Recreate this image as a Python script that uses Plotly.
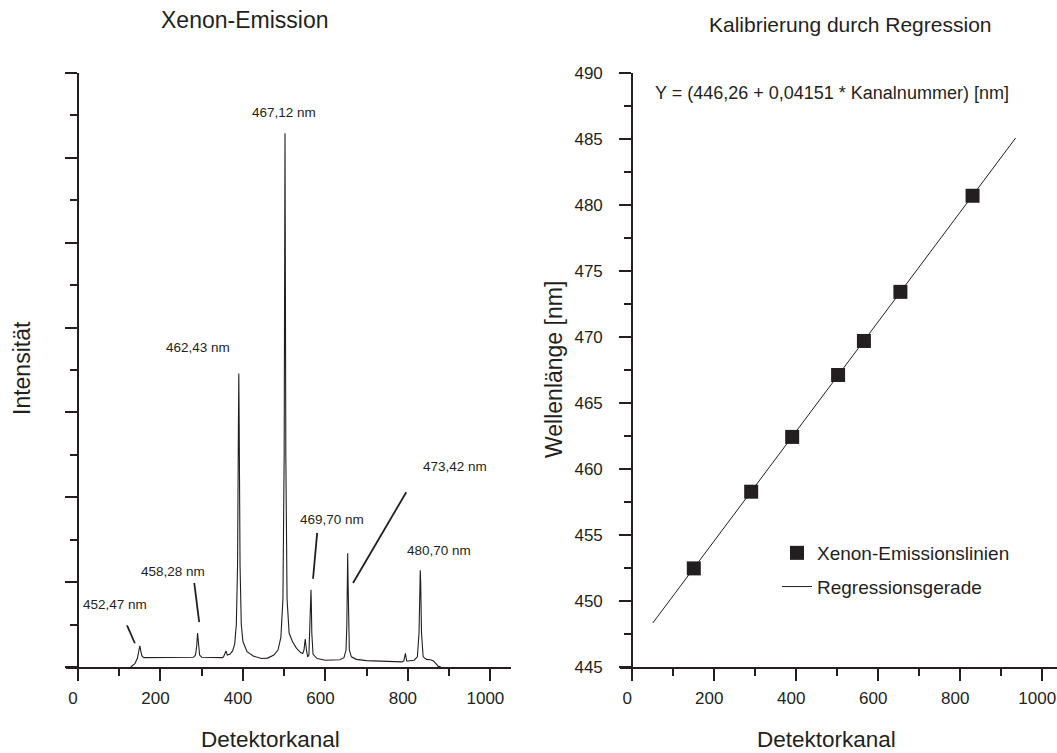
import plotly.graph_objects as go

W, H = 1057, 753
FONT = "Liberation Sans, Arial, sans-serif"
INK = "#231f20"

# Xenon emission spectrum: detector channel vs. intensity (arb. units)
spec_channel = [128, 138, 144, 148, 150, 152, 155, 160, 200, 250, 280, 285, 288, 290,
                292, 295, 300, 330, 350, 353, 356, 359, 362, 368, 375, 380, 384, 387,
                389, 390, 391, 393, 396, 400, 410, 425, 445, 460, 475, 485, 492, 497,
                500, 501, 502, 503, 504, 507, 512, 520, 530, 540, 545, 548, 551, 554,
                557, 560, 563, 564, 565, 566, 567, 570, 580, 600, 620, 635, 645, 650,
                652, 653, 654, 655, 656, 658, 663, 675, 700, 750, 785, 790, 794, 797,
                800, 815, 823, 827, 829, 830, 831, 833, 837, 845, 855, 862, 868, 873, 880]
spec_intensity = [0.0, 0.04, 0.10, 0.18, 0.25, 0.20, 0.13, 0.11, 0.11, 0.11, 0.115, 0.14,
                  0.25, 0.40, 0.25, 0.14, 0.115, 0.11, 0.11, 0.12, 0.17, 0.19, 0.14, 0.15,
                  0.19, 0.27, 0.50, 1.20, 2.80, 3.46, 2.80, 1.20, 0.50, 0.30, 0.18, 0.13,
                  0.10, 0.105, 0.14, 0.20, 0.35, 0.80, 2.50, 4.50, 6.29, 4.50, 2.50, 0.80,
                  0.40, 0.30, 0.22, 0.17, 0.16, 0.20, 0.33, 0.20, 0.12, 0.14, 0.50, 0.80,
                  0.91, 0.70, 0.40, 0.15, 0.10, 0.08, 0.08, 0.085, 0.11, 0.20, 0.50, 1.00,
                  1.34, 1.00, 0.50, 0.20, 0.12, 0.09, 0.075, 0.065, 0.06, 0.07, 0.16, 0.07,
                  0.07, 0.08, 0.12, 0.40, 1.00, 1.14, 1.00, 0.40, 0.12, 0.09, 0.085, 0.07,
                  0.04, 0.01, 0.0]

# Identified emission lines: channel and known wavelength (nm)
line_channel = [150, 290, 390, 502, 565, 654, 830]
line_wavelength = [452.47, 458.28, 462.43, 467.12, 469.70, 473.42, 480.70]
line_labels = ["452,47 nm", "458,28 nm", "462,43 nm", "467,12 nm",
               "469,70 nm", "473,42 nm", "480,70 nm"]
# Label positions (channel, intensity) and optional leader start points
label_pos = [(90, 0.74), (230, 1.12), (290, 3.77), (500, 6.54),
             (615, 1.74), (914, 2.36), (875, 1.37)]
leader_from = [(119, 0.49), (282, 0.99), None, None, (580, 1.58), (796, 2.06), None]
leader_to = [(138, 0.28), (294, 0.53), None, None, (570, 1.04), (667, 0.99), None]

# Linear regression result
intercept = 446.26
slope = 0.04151
fit_channel = [50, 935]
fit_wavelength = [intercept + slope * c for c in fit_channel]

# Plot area geometry (pixels)
L_X0, L_X1 = 66, 511
L_XR = [-29, 1050]
R_X0, R_X1 = 620, 1057
R_XR = [-30, 1036]
Y_TOP, Y_BOT = 73, 667


def px(v):
    return v / W


def py(v):
    return 1 - v / H


def zero_pos(x0, x1, xr):
    return px(x0 + (0 - xr[0]) / (xr[1] - xr[0]) * (x1 - x0))


fig = go.Figure()

fig.add_trace(go.Scatter(x=spec_channel, y=spec_intensity, mode="lines",
                         line=dict(color=INK, width=1.1), xaxis="x", yaxis="y",
                         showlegend=False, hoverinfo="skip"))

for i, lab in enumerate(line_labels):
    fig.add_annotation(x=label_pos[i][0], y=label_pos[i][1], xref="x", yref="y",
                       text=lab, showarrow=False,
                       font=dict(family=FONT, size=13.5, color=INK))
    if leader_from[i] is not None:
        fig.add_trace(go.Scatter(x=[leader_from[i][0], leader_to[i][0]],
                                 y=[leader_from[i][1], leader_to[i][1]],
                                 mode="lines", line=dict(color=INK, width=1.8),
                                 xaxis="x", yaxis="y", showlegend=False,
                                 hoverinfo="skip"))

fig.add_trace(go.Scatter(x=line_channel, y=line_wavelength, mode="markers",
                         marker=dict(symbol="square", size=14, color=INK),
                         name="Xenon-Emissionslinien", legendgroup="pts",
                         xaxis="x2", yaxis="y2"))
fig.add_trace(go.Scatter(x=fit_channel, y=fit_wavelength, mode="lines",
                         line=dict(color=INK, width=1),
                         name="Regressionsgerade", legendgroup="fit",
                         xaxis="x2", yaxis="y2"))

axis_common = dict(showgrid=False, zeroline=False, showline=True, linecolor=INK,
                   linewidth=2.2, ticks="outside", ticklen=12, tickwidth=2.2,
                   tickcolor=INK, automargin=False, ticklabeloverflow="allow",
                   tickfont=dict(family=FONT, size=17, color=INK))
minor_common = dict(ticks="outside", ticklen=7, tickwidth=2, tickcolor=INK)
x_ticks = dict(tickvals=[0, 200, 400, 600, 800, 1000], ticklabelshift=-5,
               ticklabelstandoff=2,
               minor=dict(tickvals=[100, 300, 500, 700, 900], **minor_common))

fig.update_layout(
    width=W, height=H,
    margin=dict(l=0, r=0, t=0, b=0, autoexpand=False),
    paper_bgcolor="white", plot_bgcolor="white",
    xaxis=dict(domain=[px(L_X0), px(L_X1)], range=L_XR, anchor="y",
               **x_ticks, **axis_common),
    yaxis=dict(domain=[py(Y_BOT), py(Y_TOP)], range=[0, 7], anchor="free",
               position=zero_pos(L_X0, L_X1, L_XR), dtick=1, showticklabels=False,
               minor=dict(dtick=0.5, **minor_common), **axis_common),
    xaxis2=dict(domain=[px(R_X0), min(1.0, px(R_X1))], range=R_XR, anchor="y2",
                **x_ticks, **axis_common),
    yaxis2=dict(domain=[py(Y_BOT), py(Y_TOP)], range=[445, 490], anchor="free",
                position=zero_pos(R_X0, R_X1, R_XR), dtick=5, ticklabelstandoff=13,
                minor=dict(dtick=2.5, **minor_common), **axis_common),
    legend=dict(x=px(777), y=py(534), xanchor="left", yanchor="top",
                bgcolor="rgba(0,0,0,0)", tracegroupgap=6,
                font=dict(family=FONT, size=19, color=INK)),
    showlegend=True,
)

texts = [
    ("Xenon-Emission", 244, 20, 23, 0),
    ("Kalibrierung durch Regression", 850, 25, 21, 0),
    ("Detektorkanal", 270, 739, 22.5, 0),
    ("Detektorkanal", 826, 739, 22.5, 0),
    ("Intensität", 22, 368, 23, -90),
    ("Wellenlänge [nm]", 554, 370, 23, -90),
]
for t, x, y, s, ang in texts:
    fig.add_annotation(x=px(x), y=py(y), xref="paper", yref="paper", text=t,
                       showarrow=False, textangle=ang, xanchor="center",
                       yanchor="middle", font=dict(family=FONT, size=s, color=INK))

fig.add_annotation(x=px(653), y=py(93), xref="paper", yref="paper",
                   text="Y = (446,26 + 0,04151 * Kanalnummer) [nm]", showarrow=False,
                   xanchor="left", yanchor="middle",
                   font=dict(family=FONT, size=18, color=INK))

fig.write_html("out.html")
